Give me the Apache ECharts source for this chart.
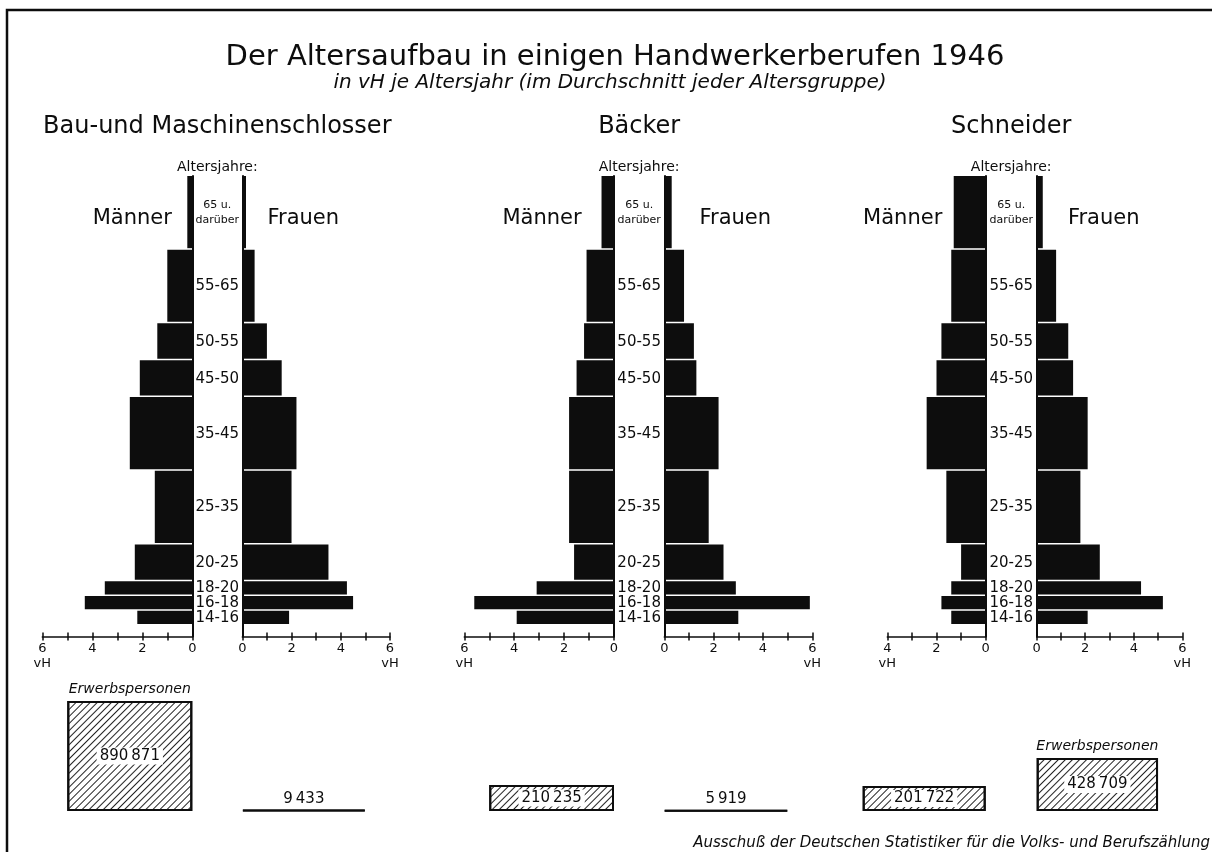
<!DOCTYPE html>
<html>
<head>
<meta charset="utf-8">
<title>Der Altersaufbau in einigen Handwerkerberufen 1946</title>
<script src="https://cdn.jsdelivr.net/npm/echarts@6/dist/echarts.min.js"></script>
<style>
  html, body { margin: 0; padding: 0; background: #fff; }
  #chart { width: 1212px; height: 852px; }
</style>
</head>
<body>
<div id="chart"></div>
<script>
'use strict';

// Altersgruppen (65 u. darüber wird wie im Original 10 Jahre hoch gezeichnet)
var ageStart = [14, 16, 18, 20, 25, 35, 45, 50, 55, 65];
var ageEnd = [16, 18, 20, 25, 35, 45, 50, 55, 65, 75];
var ageLabels = ['14-16', '16-18', '18-20', '20-25', '25-35', '35-45', '45-50', '50-55', '55-65', '65 u.\ndarüber'];

var berufe = ['Bau-und Maschinenschlosser', 'Bäcker', 'Schneider'];
var seiten = ['Männer', 'Frauen'];

// vH je Altersjahr, von 14-16 bis 65 u. darüber
var schlosserMaenner = [2.2, 4.3, 3.5, 2.3, 1.5, 2.5, 2.1, 1.4, 1.0, 0.2];
var schlosserFrauen = [1.9, 4.5, 4.25, 3.5, 2.0, 2.2, 1.6, 1.0, 0.5, 0.15];
var baeckerMaenner = [3.9, 5.6, 3.1, 1.6, 1.8, 1.8, 1.5, 1.2, 1.1, 0.5];
var baeckerFrauen = [3.0, 5.9, 2.9, 2.4, 1.8, 2.2, 1.3, 1.2, 0.8, 0.3];
var schneiderMaenner = [1.4, 1.8, 1.4, 1.0, 1.6, 2.4, 2.0, 1.8, 1.4, 1.3];
var schneiderFrauen = [2.1, 5.2, 4.3, 2.6, 1.8, 2.1, 1.5, 1.3, 0.8, 0.25];

// Erwerbspersonen
var erwerbsMaenner = [890871, 210235, 201722];
var erwerbsFrauen = [9433, 5919, 428709];

// Achsenende (vH)
var axisMaxMaenner = [6, 6, 4];
var axisMaxFrauen = [6, 6, 6];

var maennerDaten = [schlosserMaenner, baeckerMaenner, schneiderMaenner];
var frauenDaten = [schlosserFrauen, baeckerFrauen, schneiderFrauen];

// --- Layout ---
var FONT = '"DejaVu Sans", "Noto Sans", sans-serif';
var INK = '#0d0d0d';
var TOP = 176, AXIS_Y = 636.5;
var menLeft = [42.3, 464.3, 887.3];
var men0 = [192.3, 614, 985.7];
var women0 = [242.3, 664.3, 1036.7];
var womenRight = [390, 812.3, 1182.3];
var nameOffset = [[60, 61], [72, 71], [83, 67]];
var BOX_BOTTOM = 811, BOX_MAX = 1000000, BOX_SCALE = 110 / 890871;
var boxTop = BOX_BOTTOM - BOX_MAX * BOX_SCALE;
var caption = [[true, false], [false, false], [false, true]];

function fmtNum(v) {
  return String(v).replace(/\B(?=(\d{3})+(?!\d))/g, '\u2009');
}

function barItem(params, api) {
  var a = api.coord([0, api.value(1)]);
  var b = api.coord([api.value(0), api.value(2)]);
  return {
    type: 'rect',
    shape: { x: Math.min(a[0], b[0]), y: b[1], width: Math.abs(b[0] - a[0]), height: a[1] - b[1] - 1.5 },
    style: { fill: INK }
  };
}

function ageLabelItem(gap) {
  return function (params, api) {
    var i = params.dataIndex;
    var c = api.coord([0, api.value(1)]);
    var last = i === ageLabels.length - 1;
    return {
      type: 'text',
      x: c[0] - gap / 2,
      y: c[1],
      style: {
        text: ageLabels[i],
        textAlign: 'center',
        textVerticalAlign: 'middle',
        font: (last ? '11px ' : '15px ') + FONT,
        lineHeight: last ? 15 : 18,
        fill: INK
      }
    };
  };
}

function tickFormatter(max) {
  return function (v) {
    if (v === max) return v + '\nvH';
    return v % 2 === 0 ? String(v) : '';
  };
}

var grids = [], xAxes = [], yAxes = [], series = [];

function addPyramidSide(p, side) {
  var isMen = side === 0;
  var max = isMen ? axisMaxMaenner[p] : axisMaxFrauen[p];
  var left = isMen ? menLeft[p] : women0[p];
  var width = isMen ? men0[p] - menLeft[p] : womenRight[p] - women0[p];
  var g = grids.length;
  grids.push({ left: left, width: width, top: TOP, bottom: 852 - AXIS_Y });
  var xi = xAxes.length;
  xAxes.push({
    gridIndex: g, type: 'value', min: 0, max: max, interval: 1, inverse: isMen, position: 'bottom',
    axisLine: { show: true, onZero: false, lineStyle: { color: INK, width: 1.5 } },
    axisTick: { show: true, length: 4, lineStyle: { color: INK, width: 1.5 } },
    axisLabel: { margin: 5, fontSize: 13, fontFamily: FONT, color: INK, lineHeight: 15, formatter: tickFormatter(max) },
    splitLine: { show: false }
  });
  xAxes.push({
    gridIndex: g, type: 'value', min: 0, max: max, interval: 1, inverse: isMen, position: 'bottom',
    axisLine: { show: false },
    axisTick: { show: true, inside: true, length: 4, lineStyle: { color: INK, width: 1.5 } },
    axisLabel: { show: false },
    splitLine: { show: false }
  });
  var yi = yAxes.length;
  yAxes.push({
    gridIndex: g, type: 'value', min: 12.5, max: 75, position: isMen ? 'right' : 'left',
    axisLine: { show: true, onZero: false, lineStyle: { color: INK, width: 2 } },
    axisTick: { show: false }, axisLabel: { show: false }, splitLine: { show: false }
  });
  var vals = isMen ? maennerDaten[p] : frauenDaten[p];
  series.push({
    type: 'custom', name: berufe[p] + ' ' + seiten[side], xAxisIndex: xi, yAxisIndex: yi, silent: true,
    renderItem: barItem,
    encode: { x: 0, y: [1, 2] },
    data: vals.map(function (v, i) { return [v, ageStart[i], ageEnd[i]]; })
  });
  if (!isMen) {
    series.push({
      type: 'custom', xAxisIndex: xi, yAxisIndex: yi, silent: true, clip: false,
      renderItem: ageLabelItem(women0[p] - men0[p]),
      encode: { x: 0, y: 1 },
      data: ageStart.map(function (s, i) { return [0, (s + ageEnd[i]) / 2]; })
    });
  }
}

function addBox(p, side) {
  var isMen = side === 0;
  var unit = isMen ? (men0[p] - menLeft[p]) / axisMaxMaenner[p] : (womenRight[p] - women0[p]) / axisMaxFrauen[p];
  var w = 5 * unit;
  var left = isMen ? men0[p] - w : women0[p];
  var g = grids.length;
  grids.push({ left: left, width: w, top: boxTop, bottom: 852 - BOX_BOTTOM });
  var xi = xAxes.length;
  xAxes.push({ gridIndex: g, type: 'category', data: [seiten[side]], show: false });
  var yi = yAxes.length;
  yAxes.push({ gridIndex: g, type: 'value', min: 0, max: BOX_MAX, show: false });
  var v = isMen ? erwerbsMaenner[p] : erwerbsFrauen[p];
  var small = v * BOX_SCALE < 20;
  var s = {
    type: 'bar', xAxisIndex: xi, yAxisIndex: yi, barWidth: '100%', silent: true,
    itemStyle: {
      color: '#fff', borderColor: INK, borderWidth: 2,
      decal: { symbol: 'rect', symbolSize: 1, dashArrayX: [1, 0], dashArrayY: [1, 4], rotation: -Math.PI / 4, color: '#222' }
    },
    label: small ?
      { show: true, position: 'top', distance: 3, fontSize: 15, fontFamily: FONT, color: INK, formatter: function (d) { return fmtNum(d.value); } } :
      { show: true, position: 'inside', backgroundColor: '#fff', padding: [1, 3], fontSize: 15, fontFamily: FONT, color: INK, formatter: function (d) { return fmtNum(d.value); } },
    data: [v]
  };
  if (caption[p][side]) {
    s.markPoint = {
      symbol: 'rect', symbolSize: 0, silent: true,
      label: { show: true, position: 'top', distance: 5, formatter: 'Erwerbspersonen', fontStyle: 'italic', fontSize: 14, fontFamily: FONT, color: INK },
      data: [{ coord: [seiten[side], v] }]
    };
  }
  series.push(s);
}

var graphics = [
  { type: 'rect', shape: { x: 7, y: 10, width: 1300, height: 900 }, style: { fill: 'none', stroke: INK, lineWidth: 2.5 } },
  { type: 'text', x: 615, y: 57, style: { text: 'Der Altersaufbau in einigen Handwerkerberufen 1946', font: '29px ' + FONT, textAlign: 'center', textVerticalAlign: 'middle', fill: INK } },
  { type: 'text', x: 610, y: 83, style: { text: 'in vH je Altersjahr (im Durchschnitt jeder Altersgruppe)', font: 'italic 20px ' + FONT, textAlign: 'center', textVerticalAlign: 'middle', fill: INK } },
  { type: 'text', x: 1210, y: 843, style: { text: 'Ausschuß der Deutschen Statistiker für die Volks- und Berufszählung', font: 'italic 15px ' + FONT, textAlign: 'right', textVerticalAlign: 'middle', fill: INK } }
];

for (var p = 0; p < 3; p++) {
  addPyramidSide(p, 0);
  addPyramidSide(p, 1);
  addBox(p, 0);
  addBox(p, 1);
  var mid = (men0[p] + women0[p]) / 2;
  graphics.push({ type: 'text', x: mid, y: 127, style: { text: berufe[p], font: '24px ' + FONT, textAlign: 'center', textVerticalAlign: 'middle', fill: INK } });
  graphics.push({ type: 'text', x: mid, y: 167, style: { text: 'Altersjahre:', font: '14px ' + FONT, textAlign: 'center', textVerticalAlign: 'middle', fill: INK } });
  graphics.push({ type: 'text', x: men0[p] - nameOffset[p][0], y: 219, style: { text: seiten[0], font: '21px ' + FONT, textAlign: 'center', textVerticalAlign: 'middle', fill: INK } });
  graphics.push({ type: 'text', x: women0[p] + nameOffset[p][1], y: 219, style: { text: seiten[1], font: '21px ' + FONT, textAlign: 'center', textVerticalAlign: 'middle', fill: INK } });
}

var chart = echarts.init(document.getElementById('chart'));
chart.setOption({
  backgroundColor: '#fff',
  animation: false,
  grid: grids,
  xAxis: xAxes,
  yAxis: yAxes,
  series: series,
  graphic: graphics
});
</script>
</body>
</html>
